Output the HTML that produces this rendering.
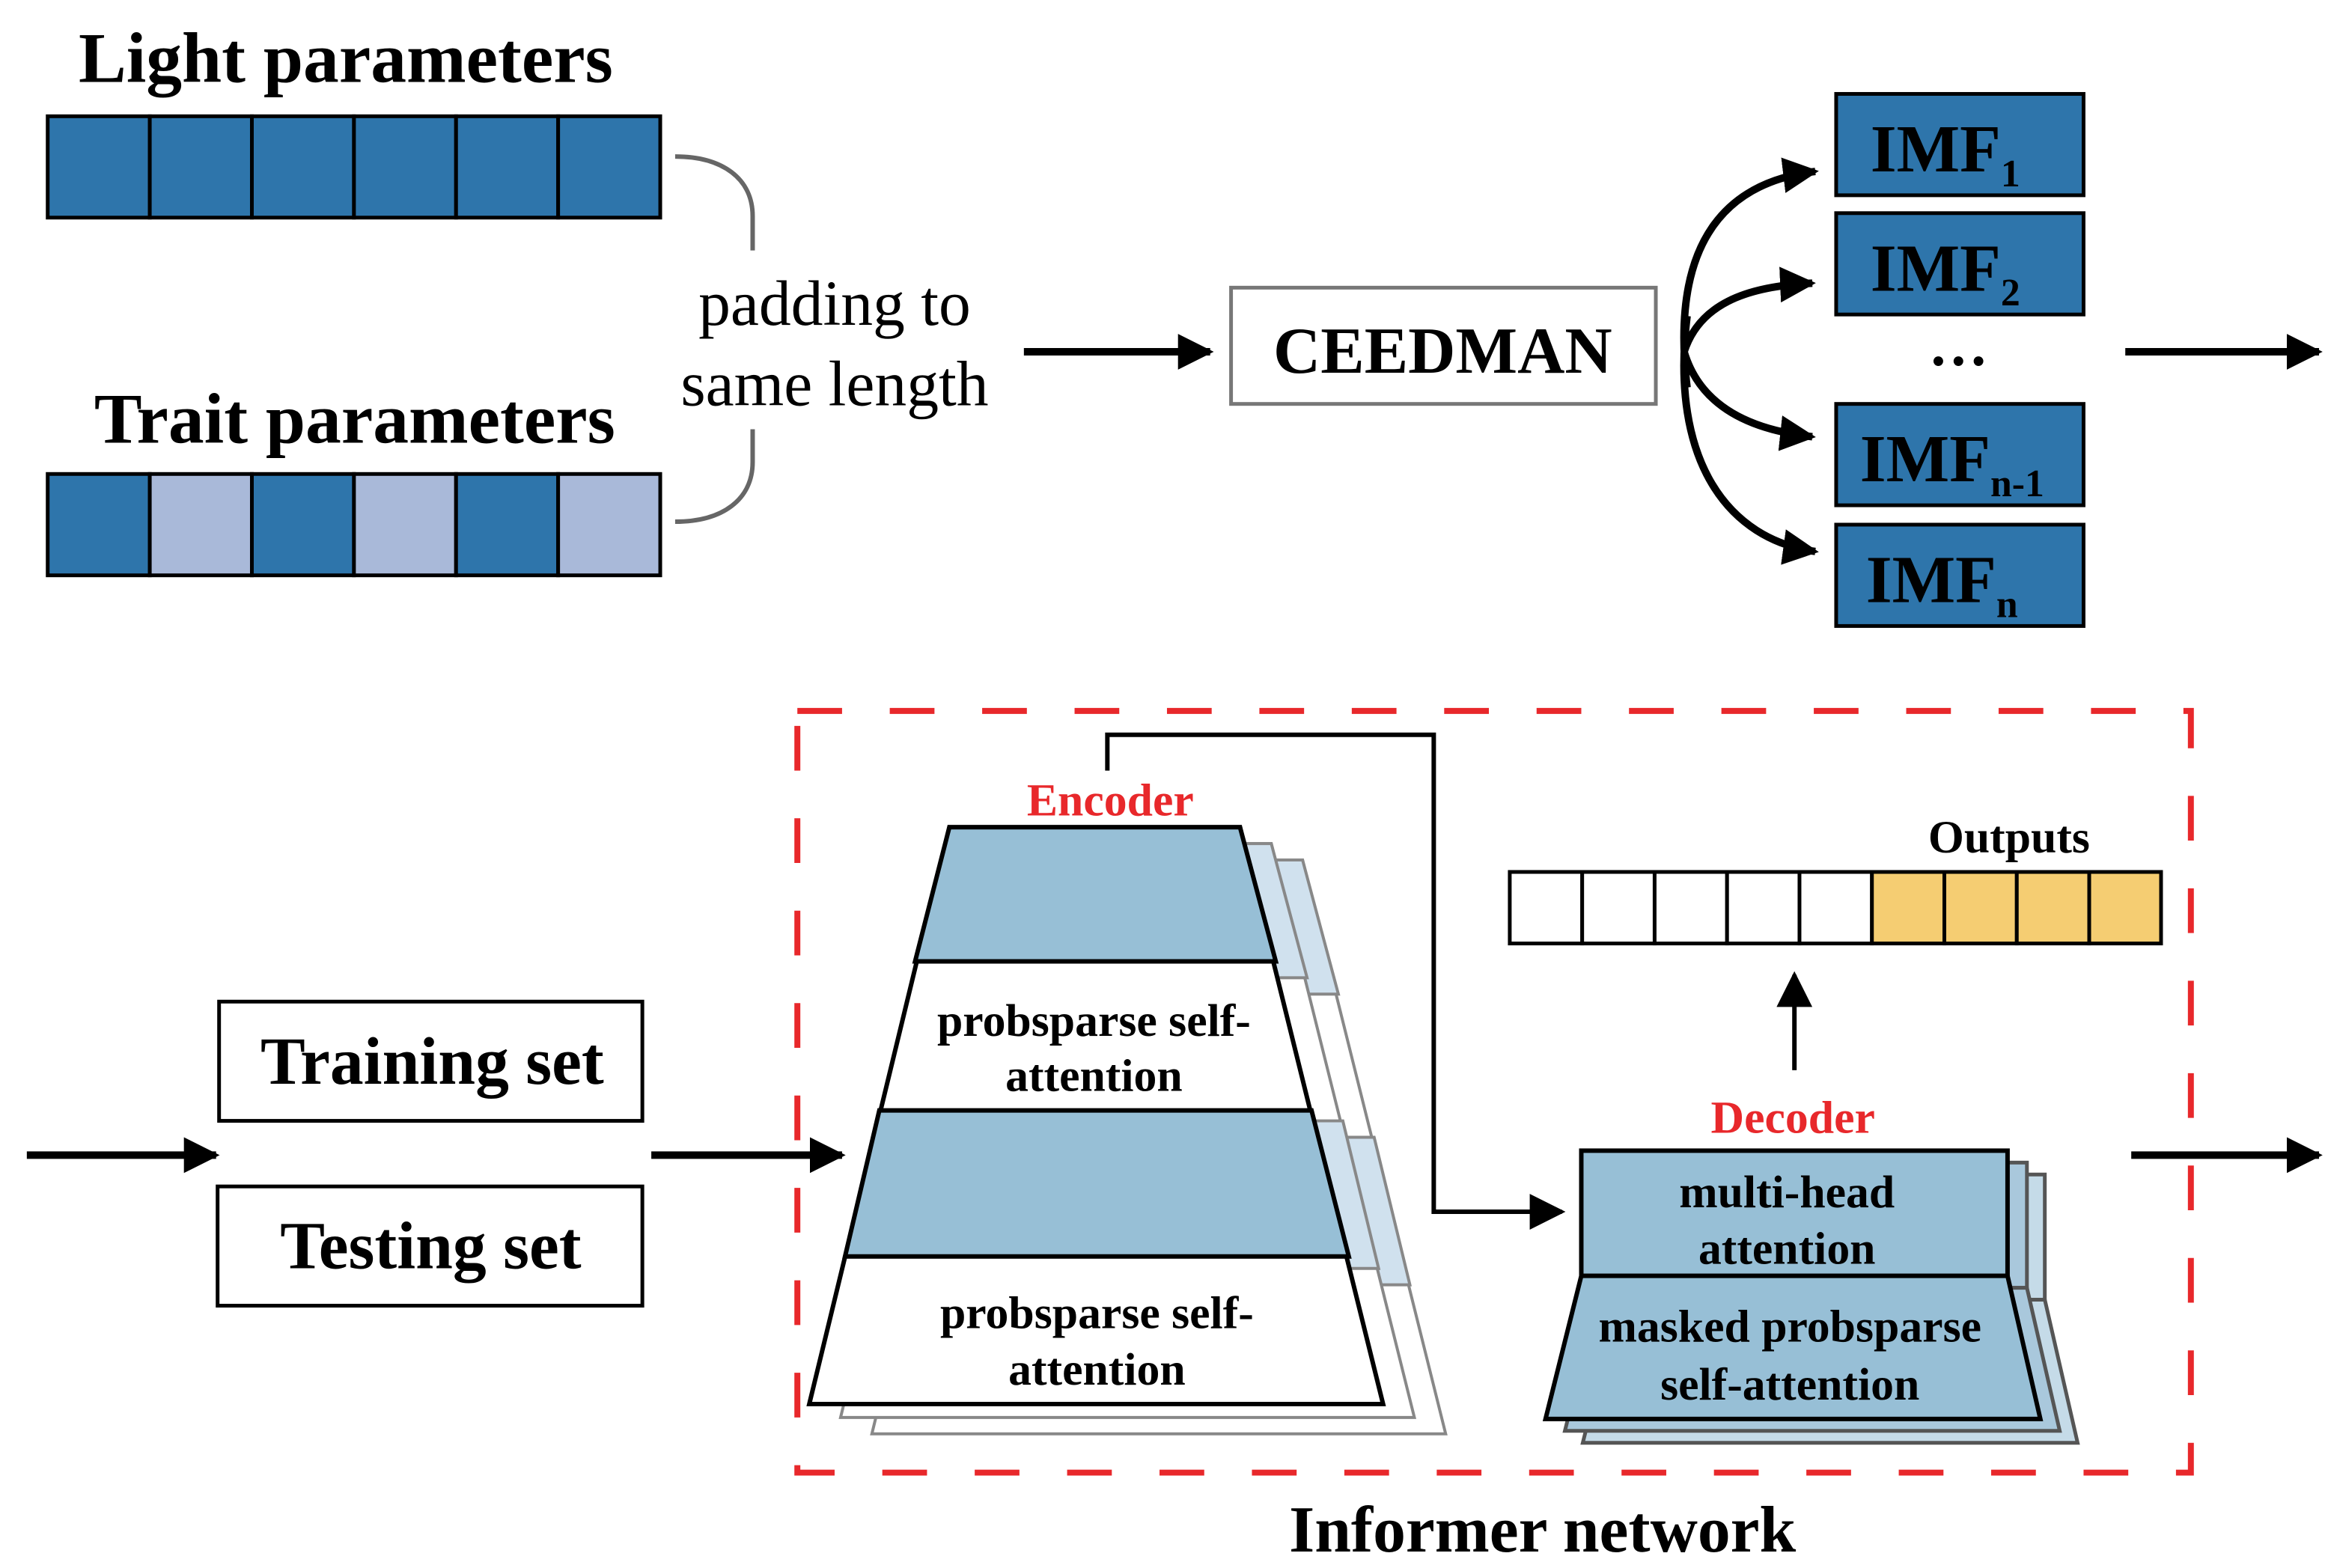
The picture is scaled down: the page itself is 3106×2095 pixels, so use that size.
<!DOCTYPE html>
<html><head><meta charset="utf-8"><style>
html,body{margin:0;padding:0;background:#fff;}
svg{display:block;}
text{font-family:"Liberation Serif",serif;}
</style></head><body>
<svg width="3106" height="2095" viewBox="0 0 1560 1052" preserveAspectRatio="none" xmlns="http://www.w3.org/2000/svg">
<defs>
<marker id="ah2" viewBox="0 0 10 10" refX="9" refY="5" markerWidth="24" markerHeight="24" orient="auto" markerUnits="userSpaceOnUse"><path d="M0,0 L10,5 L0,10 z" fill="#000"/></marker>
</defs>
<!-- Top section -->
<text x="232" y="55" font-size="48" font-weight="bold" text-anchor="middle">Light parameters</text>
<g stroke="#000" stroke-width="2.5">
<rect x="32" y="78" width="68.5" height="68" fill="#2e75ab"/>
<rect x="100.5" y="78" width="68.5" height="68" fill="#2e75ab"/>
<rect x="169" y="78" width="68.5" height="68" fill="#2e75ab"/>
<rect x="237.5" y="78" width="68.5" height="68" fill="#2e75ab"/>
<rect x="306" y="78" width="68.5" height="68" fill="#2e75ab"/>
<rect x="374.5" y="78" width="68.5" height="68" fill="#2e75ab"/>
</g>
<text x="238" y="297" font-size="48" font-weight="bold" text-anchor="middle">Trait parameters</text>
<g stroke="#000" stroke-width="2.5">
<rect x="32" y="318" width="68.5" height="68" fill="#2e75ab"/>
<rect x="100.5" y="318" width="68.5" height="68" fill="#a9b9d9"/>
<rect x="169" y="318" width="68.5" height="68" fill="#2e75ab"/>
<rect x="237.5" y="318" width="68.5" height="68" fill="#a9b9d9"/>
<rect x="306" y="318" width="68.5" height="68" fill="#2e75ab"/>
<rect x="374.5" y="318" width="68.5" height="68" fill="#a9b9d9"/>
</g>
<path d="M453,105 C485,105 505,120 505,145 L505,168" fill="none" stroke="#666" stroke-width="3"/>
<path d="M505,288 L505,310 C505,335 485,350 453,350" fill="none" stroke="#666" stroke-width="3"/>
<text x="560" y="218" font-size="43" text-anchor="middle">padding to</text>
<text x="560" y="272" font-size="43" text-anchor="middle">same length</text>
<line x1="687" y1="236" x2="812" y2="236" stroke="#000" stroke-width="5" marker-end="url(#ah2)"/>
<rect x="826" y="193" width="285" height="78" fill="#fff" stroke="#777" stroke-width="2.5"/>
<text x="968" y="250" font-size="44" font-weight="bold" text-anchor="middle">CEEDMAN</text>
<g stroke="#000" stroke-width="2.5" fill="#2e75ab">
<rect x="1232" y="63" width="166" height="68"/>
<rect x="1232" y="143" width="166" height="68"/>
<rect x="1232" y="271" width="166" height="68"/>
<rect x="1232" y="352" width="166" height="68"/>
</g>
<g font-size="45" font-weight="bold">
<text x="1255" y="115">IMF<tspan font-size="26" dy="10">1</tspan></text>
<text x="1255" y="195">IMF<tspan font-size="26" dy="10">2</tspan></text>
<text x="1248" y="323">IMF<tspan font-size="26" dy="10">n-1</tspan></text>
<text x="1252" y="404">IMF<tspan font-size="26" dy="10">n</tspan></text>
</g>
<text x="1314" y="245" font-size="40" font-weight="bold" text-anchor="middle">…</text>
<g fill="none" stroke="#000" stroke-width="5">
<path d="M1132,260 C1120,160 1160,122 1218,115" marker-end="url(#ah2)"/>
<path d="M1130,236 C1140,205 1170,192 1216,190" marker-end="url(#ah2)"/>
<path d="M1130,236 C1140,270 1170,288 1216,293" marker-end="url(#ah2)"/>
<path d="M1132,212 C1120,310 1160,362 1218,370" marker-end="url(#ah2)"/>
</g>
<line x1="1426" y1="236" x2="1556" y2="236" stroke="#000" stroke-width="5" marker-end="url(#ah2)"/>

<!-- Bottom section -->
<line x1="18" y1="775" x2="145" y2="775" stroke="#000" stroke-width="5" marker-end="url(#ah2)"/>
<rect x="147" y="672" width="284" height="80" fill="#fff" stroke="#000" stroke-width="2.5"/>
<text x="290" y="727" font-size="45" font-weight="bold" text-anchor="middle">Training set</text>
<rect x="146" y="796" width="285" height="80" fill="#fff" stroke="#000" stroke-width="2.5"/>
<text x="289" y="851" font-size="45" font-weight="bold" text-anchor="middle">Testing set</text>
<line x1="437" y1="775" x2="565" y2="775" stroke="#000" stroke-width="5" marker-end="url(#ah2)"/>

<!-- encoder shadows -->
<g stroke="#888" stroke-width="2">
<g transform="translate(42,22)">
<polygon points="637,555 832,555 928,940 543,940" fill="#fff"/>
<polygon points="637,555 832,555 856,645 614,645" fill="#d0e1ee"/>
<polygon points="590,741 880,741 904,840 567,840" fill="#d0e1ee"/>
</g>
<g transform="translate(21,11)">
<polygon points="637,555 832,555 928,940 543,940" fill="#fff"/>
<polygon points="637,555 832,555 856,645 614,645" fill="#d0e1ee"/>
<polygon points="590,741 880,741 904,840 567,840" fill="#d0e1ee"/>
</g>
</g>
<g stroke="#000" stroke-width="3">
<polygon points="637,555 832,555 928,942 543,942" fill="#fff"/>
<polygon points="637,555 832,555 856,645 614,645" fill="#97bfd6"/>
<polygon points="590,745 880,745 905,843 567,843" fill="#97bfd6"/>
</g>
<g font-size="31" font-weight="bold" text-anchor="middle">
<text x="734" y="695">probsparse self-</text>
<text x="734" y="732">attention</text>
<text x="736" y="891">probsparse self-</text>
<text x="736" y="929">attention</text>
</g>
<text x="745" y="547" font-size="31" font-weight="bold" fill="#e8282b" text-anchor="middle">Encoder</text>
<path d="M743,517 L743,493 L962,493 L962,813 L1048,813" fill="none" stroke="#000" stroke-width="3" marker-end="url(#ah2)"/>

<!-- outputs -->
<text x="1348" y="572" font-size="31" font-weight="bold" text-anchor="middle">Outputs</text>
<g stroke="#000" stroke-width="2.5">
<rect x="1013" y="585" width="48.6" height="48" fill="#fff"/>
<rect x="1061.6" y="585" width="48.6" height="48" fill="#fff"/>
<rect x="1110.2" y="585" width="48.6" height="48" fill="#fff"/>
<rect x="1158.8" y="585" width="48.6" height="48" fill="#fff"/>
<rect x="1207.4" y="585" width="48.6" height="48" fill="#fff"/>
<rect x="1256" y="585" width="48.6" height="48" fill="#f5cd72"/>
<rect x="1304.6" y="585" width="48.6" height="48" fill="#f5cd72"/>
<rect x="1353.2" y="585" width="48.6" height="48" fill="#f5cd72"/>
<rect x="1401.8" y="585" width="48.2" height="48" fill="#f5cd72"/>
</g>
<line x1="1204" y1="718" x2="1204" y2="654" stroke="#000" stroke-width="3" marker-end="url(#ah2)"/>
<text x="1203" y="760" font-size="31" font-weight="bold" fill="#e8282b" text-anchor="middle">Decoder</text>

<!-- decoder -->
<g stroke="#555" stroke-width="2.5">
<g transform="translate(25,16)">
<rect x="1061" y="772" width="286" height="84" fill="#c5dbe8"/>
<polygon points="1061,856 1347,856 1369,952 1037,952" fill="#c5dbe8"/>
</g>
<g transform="translate(13,8)">
<rect x="1061" y="772" width="286" height="84" fill="#a9c8dc"/>
<polygon points="1061,856 1347,856 1369,952 1037,952" fill="#a9c8dc"/>
</g>
</g>
<g stroke="#000" stroke-width="3" fill="#97bfd6">
<rect x="1061" y="772" width="286" height="84"/>
<polygon points="1061,856 1347,856 1369,952 1037,952"/>
</g>
<g font-size="31" font-weight="bold" text-anchor="middle">
<text x="1199" y="810">multi-head</text>
<text x="1199" y="848">attention</text>
<text x="1201" y="900">masked probsparse</text>
<text x="1201" y="939">self-attention</text>
</g>
<line x1="1430" y1="775" x2="1556" y2="775" stroke="#000" stroke-width="5" marker-end="url(#ah2)"/>
<rect x="535" y="477" width="935" height="511" fill="none" stroke="#e8282b" stroke-width="4" stroke-dasharray="30,32"/>
<text x="1035" y="1041" font-size="44" font-weight="bold" text-anchor="middle">Informer network</text>
</svg>
</body></html>
